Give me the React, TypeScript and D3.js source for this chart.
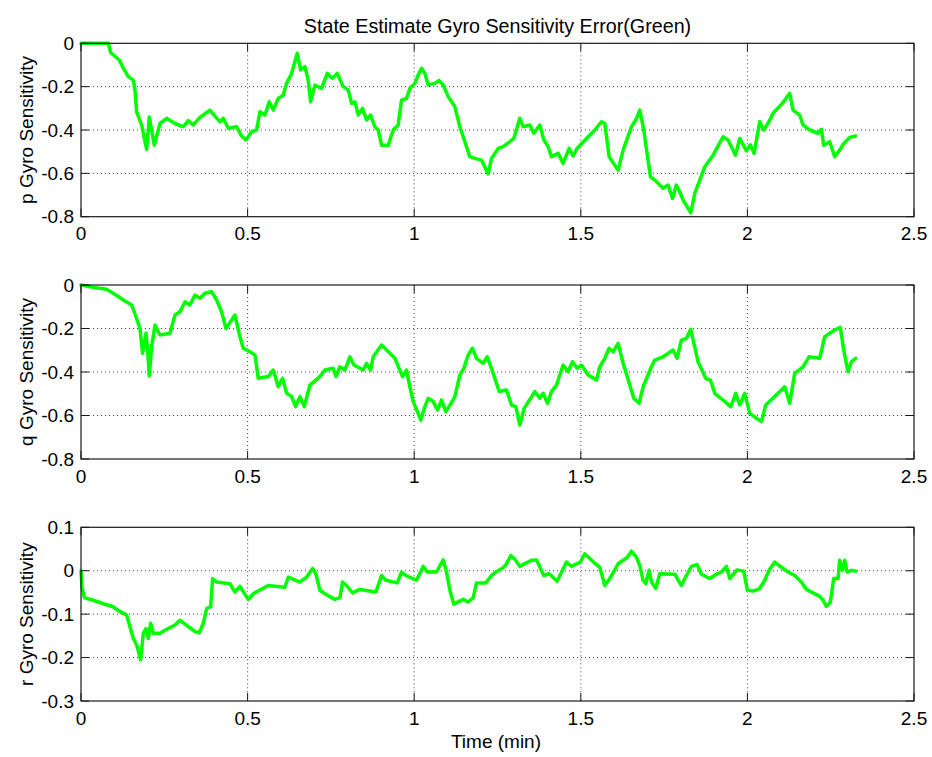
import React from "react";
import * as d3 from "d3";

const xTicks = [0, 0.5, 1, 1.5, 2, 2.5];
const pTicks = [0, -0.2, -0.4, -0.6, -0.8];
const qTicks = [0, -0.2, -0.4, -0.6, -0.8];
const rTicks = [0.1, 0, -0.1, -0.2, -0.3];

const titleText = "State Estimate Gyro Sensitivity Error(Green)";
const xLabel = "Time (min)";
const yLabels = ["p Gyro Sensitivity", "q Gyro Sensitivity", "r Gyro Sensitivity"];

const pData: [number, number][] = [[0,0],[0.082,0],[0.089,-0.043],[0.115,-0.077],[0.127,-0.115],[0.142,-0.154],[0.157,-0.17],[0.162,-0.215],[0.167,-0.316],[0.182,-0.377],[0.197,-0.49],[0.205,-0.34],[0.212,-0.40],[0.22,-0.47],[0.237,-0.37],[0.257,-0.346],[0.282,-0.37],[0.307,-0.385],[0.322,-0.357],[0.337,-0.377],[0.357,-0.342],[0.387,-0.308],[0.402,-0.336],[0.417,-0.362],[0.427,-0.346],[0.442,-0.392],[0.467,-0.385],[0.482,-0.428],[0.495,-0.446],[0.512,-0.408],[0.527,-0.40],[0.537,-0.316],[0.552,-0.331],[0.565,-0.27],[0.577,-0.308],[0.592,-0.254],[0.607,-0.239],[0.617,-0.185],[0.632,-0.139],[0.649,-0.046],[0.659,-0.123],[0.672,-0.108],[0.682,-0.17],[0.689,-0.27],[0.702,-0.193],[0.722,-0.208],[0.739,-0.139],[0.755,-0.162],[0.769,-0.139],[0.787,-0.2],[0.802,-0.215],[0.812,-0.277],[0.822,-0.27],[0.832,-0.331],[0.845,-0.300],[0.857,-0.354],[0.869,-0.331],[0.882,-0.385],[0.892,-0.40],[0.902,-0.47],[0.922,-0.47],[0.937,-0.40],[0.952,-0.377],[0.962,-0.262],[0.977,-0.254],[0.987,-0.208],[1.002,-0.185],[1.012,-0.146],[1.022,-0.115],[1.032,-0.139],[1.042,-0.192],[1.062,-0.185],[1.075,-0.172],[1.087,-0.192],[1.102,-0.246],[1.122,-0.292],[1.137,-0.385],[1.147,-0.431],[1.167,-0.523],[1.182,-0.531],[1.202,-0.539],[1.222,-0.603],[1.232,-0.531],[1.252,-0.485],[1.267,-0.477],[1.287,-0.454],[1.299,-0.439],[1.317,-0.346],[1.327,-0.385],[1.347,-0.377],[1.359,-0.415],[1.377,-0.377],[1.389,-0.446],[1.402,-0.477],[1.412,-0.523],[1.432,-0.508],[1.447,-0.554],[1.465,-0.485],[1.477,-0.52],[1.489,-0.485],[1.517,-0.439],[1.542,-0.40],[1.562,-0.362],[1.572,-0.369],[1.585,-0.523],[1.612,-0.585],[1.627,-0.493],[1.652,-0.385],[1.665,-0.354],[1.677,-0.308],[1.689,-0.40],[1.709,-0.616],[1.722,-0.631],[1.747,-0.669],[1.762,-0.654],[1.775,-0.716],[1.787,-0.654],[1.799,-0.692],[1.807,-0.723],[1.83,-0.782],[1.842,-0.692],[1.872,-0.57],[1.897,-0.516],[1.927,-0.431],[1.942,-0.446],[1.964,-0.516],[1.977,-0.439],[1.997,-0.496],[2.009,-0.469],[2.02,-0.508],[2.037,-0.362],[2.049,-0.40],[2.062,-0.369],[2.077,-0.323],[2.105,-0.277],[2.127,-0.231],[2.137,-0.308],[2.157,-0.331],[2.167,-0.377],[2.187,-0.40],[2.212,-0.415],[2.222,-0.397],[2.229,-0.47],[2.247,-0.454],[2.262,-0.523],[2.277,-0.493],[2.289,-0.462],[2.307,-0.434],[2.325,-0.428]];

const qData: [number, number][] = [[0,0],[0.037,-0.011],[0.077,-0.02],[0.097,-0.038],[0.127,-0.069],[0.152,-0.092],[0.165,-0.146],[0.177,-0.2],[0.185,-0.314],[0.195,-0.222],[0.2,-0.3],[0.205,-0.418],[0.212,-0.284],[0.222,-0.184],[0.237,-0.23],[0.267,-0.222],[0.282,-0.138],[0.297,-0.123],[0.312,-0.077],[0.327,-0.092],[0.342,-0.046],[0.357,-0.061],[0.372,-0.038],[0.392,-0.031],[0.407,-0.069],[0.422,-0.123],[0.435,-0.2],[0.462,-0.138],[0.477,-0.238],[0.487,-0.291],[0.507,-0.307],[0.522,-0.322],[0.532,-0.429],[0.562,-0.421],[0.577,-0.391],[0.592,-0.468],[0.605,-0.429],[0.617,-0.498],[0.632,-0.513],[0.644,-0.559],[0.657,-0.513],[0.67,-0.559],[0.687,-0.46],[0.717,-0.421],[0.732,-0.391],[0.757,-0.383],[0.765,-0.421],[0.777,-0.376],[0.792,-0.391],[0.807,-0.33],[0.819,-0.368],[0.847,-0.391],[0.857,-0.36],[0.869,-0.391],[0.877,-0.33],[0.902,-0.276],[0.927,-0.314],[0.942,-0.337],[0.965,-0.421],[0.977,-0.391],[0.987,-0.468],[0.997,-0.536],[1.02,-0.621],[1.032,-0.559],[1.042,-0.521],[1.057,-0.536],[1.07,-0.575],[1.082,-0.529],[1.095,-0.582],[1.107,-0.552],[1.122,-0.513],[1.137,-0.414],[1.149,-0.383],[1.162,-0.322],[1.175,-0.291],[1.187,-0.337],[1.207,-0.36],[1.219,-0.33],[1.232,-0.383],[1.255,-0.49],[1.277,-0.483],[1.292,-0.552],[1.305,-0.559],[1.317,-0.644],[1.33,-0.567],[1.362,-0.49],[1.377,-0.521],[1.387,-0.498],[1.40,-0.544],[1.412,-0.49],[1.427,-0.46],[1.447,-0.368],[1.462,-0.399],[1.475,-0.353],[1.489,-0.383],[1.502,-0.368],[1.522,-0.414],[1.547,-0.437],[1.557,-0.376],[1.572,-0.337],[1.585,-0.291],[1.597,-0.307],[1.612,-0.268],[1.627,-0.36],[1.647,-0.46],[1.659,-0.521],[1.675,-0.544],[1.687,-0.468],[1.712,-0.376],[1.722,-0.345],[1.747,-0.33],[1.777,-0.299],[1.789,-0.337],[1.802,-0.253],[1.817,-0.245],[1.83,-0.204],[1.852,-0.353],[1.875,-0.429],[1.889,-0.437],[1.902,-0.498],[1.927,-0.529],[1.95,-0.559],[1.965,-0.498],[1.977,-0.552],[1.992,-0.498],[2.007,-0.59],[2.042,-0.628],[2.055,-0.552],[2.082,-0.513],[2.112,-0.468],[2.127,-0.544],[2.142,-0.406],[2.167,-0.376],[2.185,-0.33],[2.217,-0.337],[2.232,-0.238],[2.262,-0.207],[2.279,-0.195],[2.289,-0.299],[2.302,-0.399],[2.312,-0.353],[2.325,-0.337]];

const rData: [number, number][] = [[0,0],[0.003,-0.038],[0.01,-0.062],[0.037,-0.068],[0.067,-0.076],[0.097,-0.083],[0.112,-0.092],[0.137,-0.102],[0.157,-0.156],[0.167,-0.171],[0.179,-0.205],[0.187,-0.144],[0.195,-0.133],[0.202,-0.156],[0.209,-0.121],[0.217,-0.144],[0.237,-0.144],[0.252,-0.137],[0.282,-0.125],[0.297,-0.114],[0.312,-0.123],[0.342,-0.14],[0.355,-0.143],[0.367,-0.121],[0.377,-0.087],[0.389,-0.083],[0.395,-0.018],[0.407,-0.026],[0.447,-0.03],[0.462,-0.049],[0.477,-0.036],[0.502,-0.066],[0.517,-0.053],[0.562,-0.034],[0.612,-0.038],[0.622,-0.015],[0.657,-0.026],[0.677,-0.015],[0.695,0.005],[0.705,-0.007],[0.717,-0.045],[0.732,-0.053],[0.762,-0.066],[0.777,-0.062],[0.785,-0.026],[0.797,-0.034],[0.815,-0.051],[0.837,-0.043],[0.885,-0.049],[0.902,-0.011],[0.915,-0.022],[0.949,-0.028],[0.962,-0.003],[0.975,-0.011],[1.007,-0.022],[1.027,0.01],[1.039,-0.003],[1.067,-0.003],[1.087,0.025],[1.097,-0.003],[1.107,-0.045],[1.119,-0.077],[1.147,-0.066],[1.162,-0.072],[1.177,-0.062],[1.187,-0.028],[1.215,-0.028],[1.232,-0.011],[1.249,-0.001],[1.267,0.007],[1.277,0.016],[1.29,0.035],[1.302,0.027],[1.317,0.01],[1.352,0.024],[1.367,0.025],[1.389,-0.011],[1.405,-0.007],[1.429,-0.024],[1.457,0.02],[1.472,0.01],[1.499,0.02],[1.512,0.039],[1.542,0.017],[1.557,0.008],[1.572,-0.034],[1.587,-0.018],[1.612,0.016],[1.64,0.031],[1.652,0.045],[1.667,0.031],[1.677,0.012],[1.687,-0.022],[1.695,-0.03],[1.705,0.001],[1.712,-0.026],[1.725,-0.041],[1.737,-0.007],[1.782,-0.008],[1.802,-0.034],[1.817,-0.011],[1.832,0.01],[1.849,0.014],[1.862,-0.008],[1.887,-0.018],[1.907,-0.008],[1.922,-0.003],[1.937,0.01],[1.947,-0.018],[1.969,0.002],[1.989,-0.001],[2.0,-0.045],[2.017,-0.047],[2.037,-0.041],[2.052,-0.022],[2.065,0.001],[2.082,0.02],[2.095,0.012],[2.122,-0.003],[2.142,-0.011],[2.162,-0.026],[2.177,-0.043],[2.197,-0.051],[2.217,-0.059],[2.227,-0.068],[2.237,-0.082],[2.249,-0.072],[2.259,-0.018],[2.272,-0.018],[2.277,0.024],[2.285,0.001],[2.292,0.024],[2.299,-0.003],[2.312,0.001],[2.325,-0.001]];

const W = 932;
const H = 757;
const left = 81;
const right = 914;
const FONT = "'Liberation Sans', Arial, Helvetica, sans-serif";

const panels = [
  { data: pData, ticks: pTicks, domain: [-0.8, 0], top: 43.3, bottom: 216.7, label: yLabels[0] },
  { data: qData, ticks: qTicks, domain: [-0.8, 0], top: 285, bottom: 459, label: yLabels[1] },
  { data: rData, ticks: rTicks, domain: [-0.3, 0.1], top: 527.3, bottom: 701, label: yLabels[2] },
];

const fmt = (v: number) => {
  const s = d3.format("")(Math.round(v * 10) / 10);
  return s.replace("−", "-");
};

function Panel({ p }: { p: typeof panels[number] }) {
  const x = d3.scaleLinear().domain([0, 2.5]).range([left, right]);
  const y = d3.scaleLinear().domain(p.domain as [number, number]).range([p.bottom, p.top]);
  const line = d3.line<[number, number]>().x((d) => x(d[0])).y((d) => y(d[1]));
  const tl = 8;
  const cy = (p.top + p.bottom) / 2;
  return (
    <g>
      {xTicks.slice(1, -1).map((t) => (
        <line key={"gx" + t} x1={x(t)} x2={x(t)} y1={p.top} y2={p.bottom} stroke="#444" strokeWidth={1} strokeDasharray="1 3" />
      ))}
      {p.ticks.filter((t) => y(t) > p.top + 1 && y(t) < p.bottom - 1).map((t) => (
        <line key={"gy" + t} x1={left} x2={right} y1={y(t)} y2={y(t)} stroke="#444" strokeWidth={1} strokeDasharray="1 3" />
      ))}
      <path d={line(p.data) || ""} fill="none" stroke="#00ff00" strokeWidth={3.5} strokeLinejoin="round" strokeLinecap="round" />
      <rect x={left} y={p.top} width={right - left} height={p.bottom - p.top} fill="none" stroke="#1a1a1a" strokeWidth={1.2} />
      {xTicks.map((t) => (
        <g key={"tx" + t}>
          <line x1={x(t)} x2={x(t)} y1={p.bottom} y2={p.bottom - tl} stroke="#1a1a1a" strokeWidth={1} />
          <line x1={x(t)} x2={x(t)} y1={p.top} y2={p.top + tl} stroke="#1a1a1a" strokeWidth={1} />
          <text x={x(t)} y={p.bottom + 23.5} textAnchor="middle" fontFamily={FONT} fontSize={19} fill="#000">{fmt(t)}</text>
        </g>
      ))}
      {p.ticks.map((t) => (
        <g key={"ty" + t}>
          <line x1={left} x2={left + tl} y1={y(t)} y2={y(t)} stroke="#1a1a1a" strokeWidth={1} />
          <line x1={right} x2={right - tl} y1={y(t)} y2={y(t)} stroke="#1a1a1a" strokeWidth={1} />
          <text x={74} y={y(t)} dy="0.35em" textAnchor="end" fontFamily={FONT} fontSize={19} fill="#000">{fmt(t)}</text>
        </g>
      ))}
      <text transform={`translate(33,${cy}) rotate(-90)`} textAnchor="middle" fontFamily={FONT} fontSize={19} fill="#000">{p.label}</text>
    </g>
  );
}

export default function App() {
  return (
    <svg width={W} height={H} style={{ position: "absolute", left: 0, top: 0, background: "#fff" }}>
      <rect x={0} y={0} width={W} height={H} fill="#fff" />
      <text x={(left + right) / 2} y={33} textAnchor="middle" fontFamily={FONT} fontSize={19.7} fill="#000">{titleText}</text>
      {panels.map((p, i) => (
        <Panel key={i} p={p} />
      ))}
      <text x={496} y={748} textAnchor="middle" fontFamily={FONT} fontSize={19} fill="#000">{xLabel}</text>
    </svg>
  );
}
